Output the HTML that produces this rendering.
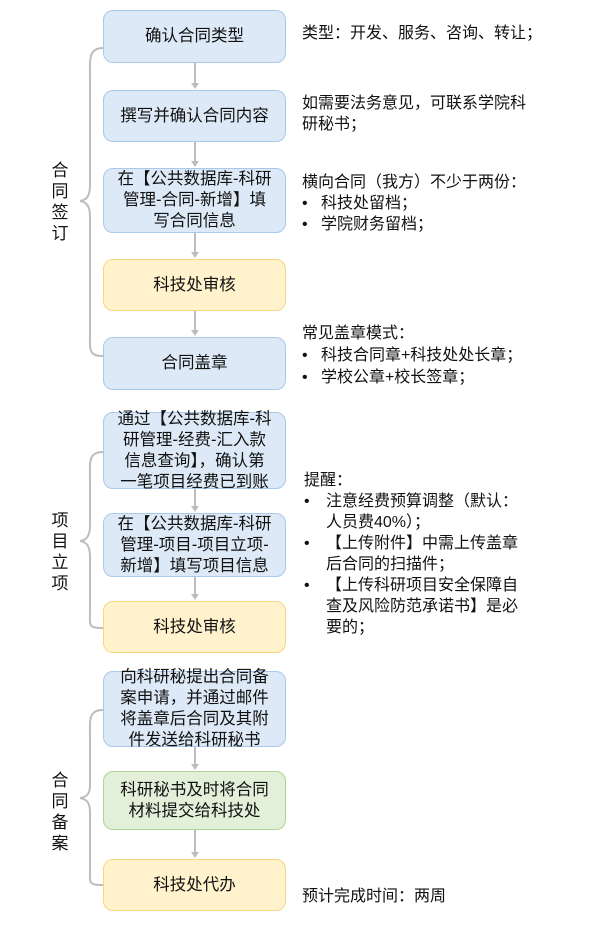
<!DOCTYPE html>
<html><head><meta charset="utf-8"><style>
body{margin:0;width:600px;height:937px;background:#fff;position:relative;overflow:hidden;font-family:"Liberation Sans","Noto Sans CJK SC",sans-serif;color:#111}
.b{position:absolute;left:103px;width:183px;box-sizing:border-box;border-radius:10px;display:flex;align-items:center;justify-content:center;text-align:center;font-size:16.5px;line-height:21px;padding:0 2px;white-space:nowrap}
.bl{background:#dde9f6;border:1.5px solid #a9c8ea}
.y{background:#fff2cc;border:1.5px solid #f7d880}
.g{background:#e2efd9;border:1.5px solid #b0d496}
.t{position:absolute;font-size:16px;line-height:21px;white-space:nowrap}
.lab{position:absolute;font-size:17px;line-height:21px;width:20px;text-align:center}
</style></head><body>
<svg width="600" height="937" style="position:absolute;left:0;top:0">
<g stroke="#bdbdbd" stroke-width="2" fill="none">
<path d="M103,48 C88,48 90,60 90,80 L90,185 C90,197 86,200 80,201 C86,202 90,205 90,217 L90,330 C90,350 88,356 103,356"/>
<path d="M103,452 C88,452 90,462 90,480 L90,525 C90,537 86,540 80,541 C86,542 90,545 90,557 L90,610 C90,626 88,628 103,628"/>
<path d="M103,710 C88,710 90,720 90,740 L90,785 C90,795 86,797 80,798 C86,799 90,802 90,812 L90,868 C90,883 88,885 103,885"/>
<path d="M195,63V84M195,142V162M195,233V253M195,311V331M195,489V507M195,577V595M195,747V765M195,830V853"/>
</g>
<g fill="#bdbdbd">
<path d="M191,83h8l-4,6z"/><path d="M191,161h8l-4,6z"/><path d="M191,252h8l-4,6z"/><path d="M191,330h8l-4,6z"/>
<path d="M191,506h8l-4,6z"/><path d="M191,594h8l-4,6z"/><path d="M191,764h8l-4,6z"/><path d="M191,852h8l-4,6z"/>
</g>
</svg>
<div class="b bl" style="top:10px;height:53px">确认合同类型</div>
<div class="b bl" style="top:90px;height:52px">撰写并确认合同内容</div>
<div class="b bl" style="top:168px;height:65px">在【公共数据库-科研<br>管理-合同-新增】填<br>写合同信息</div>
<div class="b y" style="top:259px;height:52px">科技处审核</div>
<div class="b bl" style="top:337px;height:53px">合同盖章</div>
<div class="b bl" style="top:412px;height:77px">通过【公共数据库-科<br>研管理-经费-汇入款<br>信息查询】，确认第<br>一笔项目经费已到账</div>
<div class="b bl" style="top:513px;height:64px">在【公共数据库-科研<br>管理-项目-项目立项-<br>新增】填写项目信息</div>
<div class="b y" style="top:601px;height:52px">科技处审核</div>
<div class="b bl" style="top:671px;height:76px">向科研秘提出合同备<br>案申请，并通过邮件<br>将盖章后合同及其附<br>件发送给科研秘书</div>
<div class="b g" style="top:771px;height:59px">科研秘书及时将合同<br>材料提交给科技处</div>
<div class="b y" style="top:859px;height:52px">科技处代办</div>
<div class="lab" style="left:50px;top:160px">合同签订</div>
<div class="lab" style="left:50px;top:510px">项目立项</div>
<div class="lab" style="left:50px;top:770px">合同备案</div>
<div class="t" style="left:302px;top:23px">类型：开发、服务、咨询、转让；</div>
<div class="t" style="left:302px;top:93px">如需要法务意见，可联系学院科<br>研秘书；</div>
<div class="t" style="left:302px;top:172px">横向合同（我方）不少于两份：</div>
<div class="t" style="left:302px;top:193px">•&nbsp;&nbsp;&nbsp;科技处留档；</div>
<div class="t" style="left:302px;top:214px">•&nbsp;&nbsp;&nbsp;学院财务留档；</div>
<div class="t" style="left:302px;top:323px">常见盖章模式：</div>
<div class="t" style="left:302px;top:345px">•&nbsp;&nbsp;&nbsp;科技合同章+科技处处长章；</div>
<div class="t" style="left:302px;top:367px">•&nbsp;&nbsp;&nbsp;学校公章+校长签章；</div>
<div class="t" style="left:304px;top:470px">提醒：</div>
<div class="t" style="left:304px;top:491px">•</div><div class="t" style="left:326px;top:491px">注意经费预算调整（默认：<br>人员费40%）；</div>
<div class="t" style="left:304px;top:533px">•</div><div class="t" style="left:326px;top:533px">【上传附件】中需上传盖章<br>后合同的扫描件；</div>
<div class="t" style="left:304px;top:575px">•</div><div class="t" style="left:326px;top:575px">【上传科研项目安全保障自<br>查及风险防范承诺书】是必<br>要的；</div>
<div class="t" style="left:302px;top:886px">预计完成时间：两周</div>
</body></html>
